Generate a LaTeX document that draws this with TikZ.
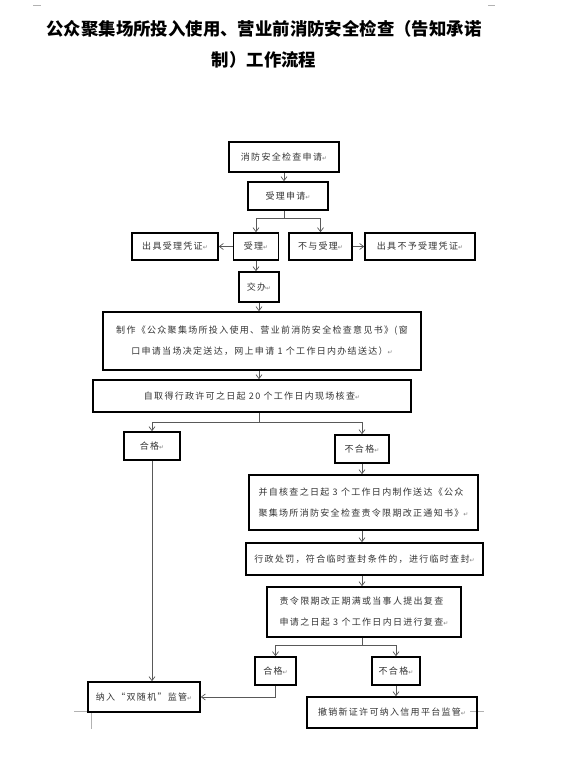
\documentclass[tikz,border=0pt]{standalone}
\usepackage{fontspec}
\usepackage{xcolor}
\usepackage{tikz}
\usetikzlibrary{arrows.meta,positioning,calc}

\newfontfamily\cjk[LetterSpace=14.5]{Noto Sans CJK SC}
\newfontfamily\cjktitle{Noto Sans CJK SC}
\newfontfamily\djv{DejaVu Sans}
\newcommand\retmark{{\djv\fontsize{6}{6}\selectfont\textcolor{black!50}{↵}}}

\begin{document}
\begin{tikzpicture}[x=1pt,y=-1pt,
  font=\cjk\fontsize{9}{21}\selectfont,
  box/.style={draw,line width=1.6pt,inner sep=2pt,text=black!80,align=center},
  ar/.style={-{Straight Barb[length=4pt,width=6pt]},line width=0.7pt,draw=black!65},
  ln/.style={line width=0.7pt,draw=black!65},
  cropline/.style={draw=black!30,line width=0.6pt},
  ttl/.style={font=\cjktitle\bfseries\fontsize{17.4}{31}\selectfont,align=center}
]
\useasboundingbox (0,0) rectangle (588,762);

%%%%%%%%%%%%%%%%%%%%%% title and page marks %%%%%%%%%%%%%%%%%%%%%%%%%%%%%%
\node[ttl] (title) at (264,44) {公众聚集场所投入使用、营业前消防安全检查（告知承诺\\制）工作流程};
\draw[cropline] (33,5) -- (41,5);
\draw[cropline] (488,5) -- (495,5);
\draw[cropline] (74,711) -- (90,711);
\draw[cropline] (91,711) -- (91,729);
\draw[cropline] (470,711) -- (484,711);

%%%%%%%%%%%%%%%%%%%%%% application %%%%%%%%%%%%%%%%%%%%%%%%%%%%%%%%%%%%%%%
\node[box,minimum width=110pt,minimum height=30pt] (apply)   at (284,157) {消防安全检查申请\retmark};
\node[box,minimum width=80pt,minimum height=28pt]  (accept)  at (288,196) {受理申请\retmark};
\node[box,minimum width=86pt,minimum height=27pt]  (okcert)  at (175,246.5) {出具受理凭证\retmark};
\node[box,minimum width=45pt,minimum height=27pt]  (ok)      at (256,246.5) {受理\retmark};
\node[box,minimum width=63pt,minimum height=27pt]  (no)      at (320.5,246.5) {不与受理\retmark};
\node[box,minimum width=110pt,minimum height=27pt] (nocert)  at (420,246.5) {出具不予受理凭证\retmark};
\node[box,minimum width=40pt,minimum height=30pt]  (hand)    at (259,287) {交办\retmark};

\draw[ar] (apply.south) -- (apply.south |- accept.north);
\draw[ln] (apply.south |- accept.south) -- ++(0,8) coordinate (s1);
\draw[ar] (s1) -| (ok.north);
\draw[ar] (s1) -| (no.north);
\draw[ar] (ok.west) -- (okcert.east);
\draw[ar] (no.east) -- (nocert.west);
\draw[ar] (ok.south) -- (ok.south |- hand.north);

%%%%%%%%%%%%%%%%%%%%%% opinion and site check %%%%%%%%%%%%%%%%%%%%%%%%%%%%
\node[box,minimum width=318pt,minimum height=58pt] (opinion) at (262,341)
  {制作《公众聚集场所投入使用、营业前消防安全检查意见书》(窗\\口申请当场决定送达，网上申请 1 个工作日内办结送达）\retmark};
\node[box,minimum width=318pt,minimum height=32pt] (verify)  at (252,396)
  {自取得行政许可之日起 20 个工作日内现场核查\retmark};

\draw[ar] (hand.south) -- (hand.south |- opinion.north);
\draw[ar] (hand.south |- opinion.south) -- (hand.south |- verify.north);
\draw[ln] (hand.south |- verify.south) -- ++(0,10) coordinate (s2);

%%%%%%%%%%%%%%%%%%%%%% result of the check %%%%%%%%%%%%%%%%%%%%%%%%%%%%%%%
\node[box,minimum width=56pt,minimum height=28pt]  (pass)    at (152,446) {合格\retmark};
\node[box,minimum width=54pt,minimum height=28pt]  (fail)    at (362,449) {不合格\retmark};
\node[box,minimum width=229pt,minimum height=55pt,align=left] (notice) at (363.5,502.5)
  {并自核查之日起 3 个工作日内制作送达《公众\\聚集场所消防安全检查责令限期改正通知书》\retmark};
\node[box,minimum width=237pt,minimum height=32pt] (punish)  at (364.5,559)
  {行政处罚，符合临时查封条件的，进行临时查封\retmark};
\node[box,minimum width=194pt,minimum height=50pt,align=left] (recheck) at (364,612)
  {责令限期改正期满或当事人提出复查\\申请之日起 3 个工作日内日进行复查\retmark};

\draw[ar] (s2) -| (pass.north);
\draw[ar] (s2) -| (fail.north);
\draw[ar] (fail.south) -- (fail.south |- notice.north);
\draw[ar] (fail.south |- notice.south) -- (fail.south |- punish.north);
\draw[ar] (fail.south |- punish.south) -- (fail.south |- recheck.north);

%%%%%%%%%%%%%%%%%%%%%% re-check and supervision %%%%%%%%%%%%%%%%%%%%%%%%%%
\node[box,minimum width=41pt,minimum height=28pt]  (pass2)     at (275.5,671) {合格\retmark};
\node[box,minimum width=48pt,minimum height=28pt]  (fail2)     at (396,671) {不合格\retmark};
\node[box,minimum width=112pt,minimum height=30pt] (supervise) at (144,697) {纳入“双随机”监管\retmark};
\node[box,minimum width=170pt,minimum height=31pt] (revoke)    at (392,712.5) {撤销新证许可纳入信用平台监管\retmark};

\draw[ln] (fail.south |- recheck.south) -- ++(0,8) coordinate (s3);
\draw[ar] (s3) -| (pass2.north);
\draw[ar] (s3) -| (fail2.north);
\draw[ar] (fail2.south) -- (fail2.south |- revoke.north);
\draw[ar] (pass.south) -- (pass.south |- supervise.north);
\draw[ar] (pass2.south) |- (supervise.east);
\end{tikzpicture}
\end{document}
